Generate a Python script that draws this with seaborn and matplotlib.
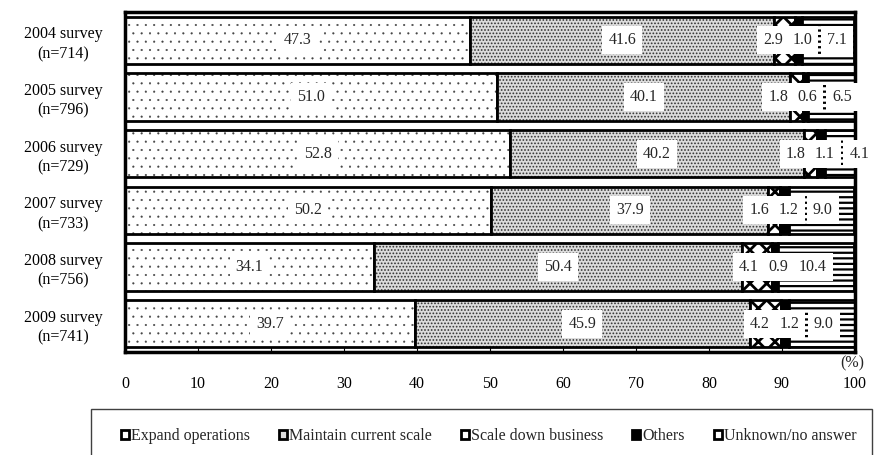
import numpy as np
import matplotlib
matplotlib.use("Agg")
import matplotlib.pyplot as plt
from matplotlib.patches import Patch, Rectangle
import seaborn as sns

# Survey rounds (row labels) and answer shares in percent
surveys = [
    "2004 survey\n(n=714)",
    "2005 survey\n(n=796)",
    "2006 survey\n(n=729)",
    "2007 survey\n(n=733)",
    "2008 survey\n(n=756)",
    "2009 survey\n(n=741)",
]
series_names = [
    "Expand operations",
    "Maintain current scale",
    "Scale down business",
    "Others",
    "Unknown/no answer",
]
expand = [47.3, 51.0, 52.8, 50.2, 34.1, 39.7]
maintain = [41.6, 40.1, 40.2, 37.9, 50.4, 45.9]
scale_down = [2.9, 1.8, 1.8, 1.6, 4.1, 4.2]
others = [1.0, 0.6, 1.1, 1.2, 0.9, 1.2]
unknown = [7.1, 6.5, 4.1, 9.0, 10.4, 9.0]
x_ticks = [0, 10, 20, 30, 40, 50, 60, 70, 80, 90, 100]

series_values = [expand, maintain, scale_down, others, unknown]

# Fill, hatch pattern, hatch colour and hatch stroke for each answer
styles = [
    dict(color="white", hatch="..", hcolor="#444444", hlw=0.3),
    dict(color="#dcdcdc", hatch=".....", hcolor="#333333", hlw=0.8),
    dict(color="white", hatch="xx", hcolor="black", hlw=2.0),
    dict(color="black", hatch="", hcolor="black", hlw=1.0),
    dict(color="white", hatch="---", hcolor="black", hlw=1.6),
]

sns.set_theme(style="white")
plt.rcParams["font.family"] = ["Liberation Serif", "DejaVu Serif"]
FS = 11.5

fig = plt.figure(figsize=(8.79, 4.55), dpi=100)
W, H = 879, 455
ax = fig.add_axes([125 / W, 1 - 352 / H, 730 / W, 340 / H])

BAR_W = 0.83
left = np.zeros(len(surveys))
for name, values, st in zip(series_names, series_values, styles):
    # patterned fill
    with plt.rc_context({"hatch.linewidth": st["hlw"]}):
        n_before = len(ax.patches)
        sns.barplot(
            x=values, y=surveys, orient="h", ax=ax, left=left,
            width=BAR_W, color=st["color"], saturation=1,
            edgecolor=st["hcolor"], linewidth=0, hatch=st["hatch"],
        )
        for p in ax.patches[n_before:]:
            if hasattr(p, "set_hatch_linewidth"):
                p.set_hatch_linewidth(st["hlw"])
    # heavy black outline
    sns.barplot(
        x=values, y=surveys, orient="h", ax=ax, left=left,
        width=BAR_W, color="black", fill=False, linewidth=2,
    )
    left = left + np.asarray(values)

# Value labels on white boxes
box = dict(boxstyle="square,pad=0.38", facecolor="white", edgecolor="none")
for i in range(len(surveys)):
    e, m, s, o, u = expand[i], maintain[i], scale_down[i], others[i], unknown[i]
    others_end = e + m + s + o
    ax.text(e / 2, i, f"{e:.1f}", ha="center", va="center", fontsize=FS, bbox=box)
    ax.text(e + m / 2, i, f"{m:.1f}", ha="center", va="center", fontsize=FS, bbox=box)
    ax.text(others_end - 4, i, f"{s:.1f}", ha="center", va="center", fontsize=FS, bbox=box)
    ax.text(others_end, i, f"{o:.1f}", ha="center", va="center", fontsize=FS, bbox=box)
    ax.text(others_end + 4.7, i, f"{u:.1f}", ha="center", va="center", fontsize=FS, bbox=box)

ax.set_xlim(0, 100)
ax.set_xticks(x_ticks)
ax.set_xticklabels([str(t) for t in x_ticks], fontsize=FS)
ax.set_xlabel("")
ax.set_ylabel("")
ax.tick_params(axis="x", direction="in", length=4, width=0.8, color="black", pad=17, bottom=True)
ax.tick_params(axis="y", length=0, pad=16, labelsize=FS)
for lbl in ax.get_yticklabels():
    lbl.set_multialignment("center")
    lbl.set_color("black")
    lbl.set_linespacing(1.3)
for lbl in ax.get_xticklabels():
    lbl.set_color("black")
for sp in ax.spines.values():
    sp.set_visible(True)
    sp.set_color("black")
    sp.set_linewidth(2.5)

fig.text(864 / W, 1 - 363 / H, "(%)", ha="right", va="center", fontsize=FS)

# Legend frame running off the bottom edge
fig.patches.append(Rectangle((91 / W, -0.05), (872 - 91) / W, (H - 409) / H + 0.05,
                             transform=fig.transFigure, fill=False,
                             edgecolor="#404040", linewidth=1))
handles = [Patch(facecolor=st["color"], edgecolor="black", linewidth=2) for st in styles]
fig.legend(handles, series_names, loc="center", bbox_to_anchor=(489 / W, 1 - 436 / H),
           ncol=5, frameon=False, fontsize=FS, handlelength=0.5, handleheight=0.5,
           handletextpad=0.15, columnspacing=1.8)

fig.savefig("out.png", dpi=100)
